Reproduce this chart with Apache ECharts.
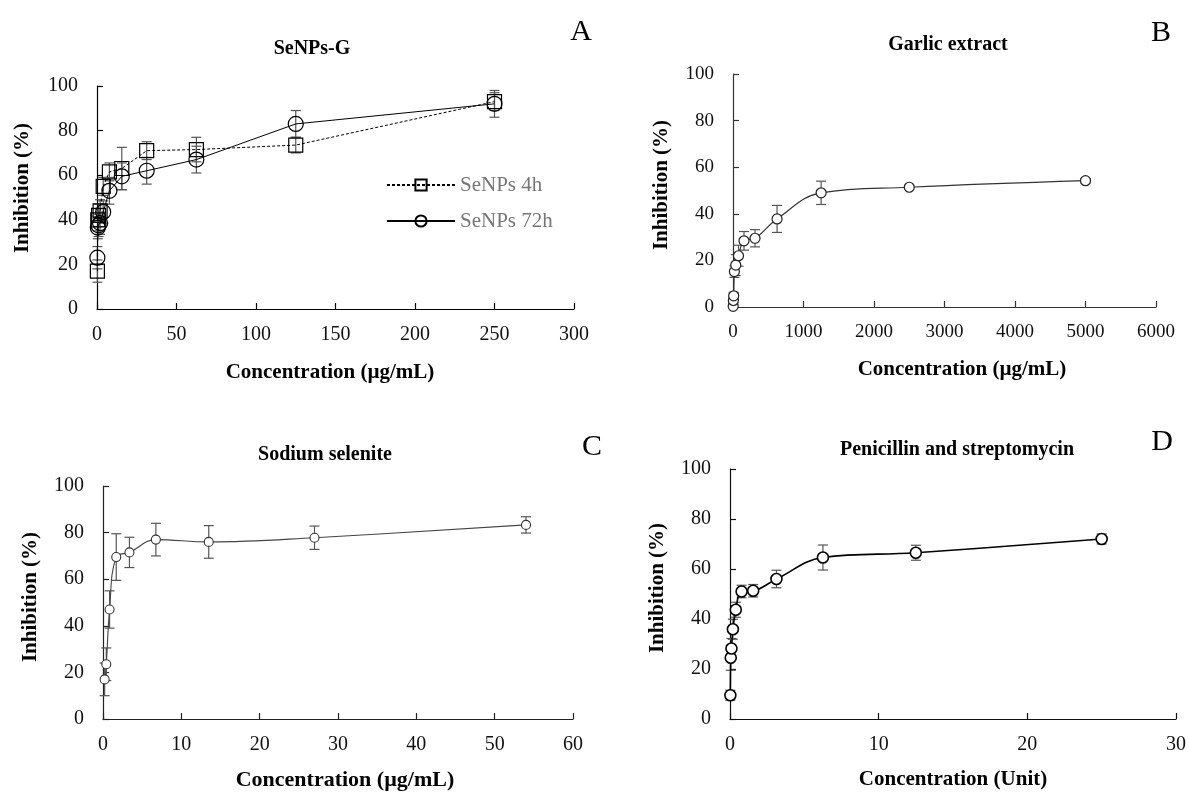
<!DOCTYPE html>
<html>
<head>
<meta charset="utf-8">
<title>Inhibition curves</title>
<script src="https://cdn.jsdelivr.net/npm/echarts@6/dist/echarts.min.js"></script>
<style>
  html, body { margin: 0; padding: 0; background: #fff; }
  #chart { width: 1189px; height: 792px; }
</style>
</head>
<body>
<div id="chart"></div>
<script>
// A: SeNPs-G
const concA = [0.24, 0.49, 0.98, 1.95, 3.9, 7.8, 15.6, 31.25, 62.5, 125, 250];
const senps4h = [17, 40, 42, 44, 55, 61.5, 63, 71, 71.5, 73.5, 93];
const senps4hErr = [5, 5, 5, 5, 4, 4, 9.5, 4, 5.5, 3.5, 4];
const senps72h = [23, 36.5, 37.5, 38.5, 43.5, 53, 59.5, 62, 67, 83, 92];
const senps72hErr = [5, 5, 5, 5, 5, 6, 6, 6, 6, 6, 6];

// B: garlic extract
const concB = [2.44, 4.88, 9.77, 19.5, 39, 78, 156, 312.5, 625, 1250, 2500, 5000];
const garlic = [0.3, 2.8, 4.8, 15.2, 18, 22, 28.4, 29.5, 37.8, 49, 51.4, 54.2];
const garlicErr = [0.5, 1, 1.5, 2.5, 4.5, 4.5, 4, 3.7, 5.8, 5, 0.8, 1];

// C: sodium selenite
const concC = [0.21, 0.42, 0.84, 1.69, 3.375, 6.75, 13.5, 27, 54];
const selenite = [17, 23.5, 47, 69.5, 71.5, 77, 76, 77.8, 83.3];
const seleniteErr = [7, 7, 8, 10, 6.5, 7, 7, 5, 3.5];

// D: penicillin and streptomycin
const concD = [0.024, 0.049, 0.098, 0.195, 0.39, 0.78, 1.56, 3.125, 6.25, 12.5, 25];
const penStrep = [9.5, 24.5, 28.2, 35.9, 43.7, 51, 51.3, 56, 64.6, 66.5, 72];
const penStrepErr = [2, 5, 4, 4, 3, 2.5, 2.5, 3.5, 5, 3, 2];

const serif = '"Liberation Serif", "Times New Roman", serif';

const grids = [
  { left: 97, top: 86, width: 477, height: 223 },
  { left: 733, top: 74, width: 423, height: 233 },
  { left: 103, top: 486, width: 470, height: 233 },
  { left: 730, top: 469, width: 447, height: 250 }
];
const xMax = [300, 6000, 60, 30];
const xStep = [50, 1000, 10, 10];
const axisColor = ['#000', '#333', '#222', '#111'];

function pairs(xs, ys) {
  return xs.map((x, i) => [x, ys[i]]);
}

function errorSeries(idx, xs, ys, errs, color) {
  return {
    type: 'custom',
    xAxisIndex: idx,
    yAxisIndex: idx,
    z: 1,
    silent: true,
    clip: false,
    data: xs.map((x, i) => [x, ys[i] - errs[i], ys[i] + errs[i]]),
    renderItem(params, api) {
      const lo = api.coord([api.value(0), api.value(1)]);
      const hi = api.coord([api.value(0), api.value(2)]);
      const w = 5;
      const style = { stroke: color, lineWidth: 1.2 };
      return {
        type: 'group',
        children: [
          { type: 'line', shape: { x1: lo[0], y1: lo[1], x2: hi[0], y2: hi[1] }, style },
          { type: 'line', shape: { x1: lo[0] - w, y1: lo[1], x2: lo[0] + w, y2: lo[1] }, style },
          { type: 'line', shape: { x1: hi[0] - w, y1: hi[1], x2: hi[0] + w, y2: hi[1] }, style }
        ]
      };
    }
  };
}

function text(str, x, y, size, bold, extra) {
  return Object.assign({
    type: 'text',
    x: x,
    y: y,
    style: {
      text: str,
      font: (bold ? 'bold ' : '') + size + 'px ' + serif,
      fill: '#000',
      align: 'center',
      verticalAlign: 'middle'
    }
  }, extra || {});
}

function yTitle(x, y) {
  return text('Inhibition (%)', x, y, 21, true, { rotation: Math.PI / 2 });
}

const chart = echarts.init(document.getElementById('chart'), null, { renderer: 'canvas' });

chart.setOption({
  animation: false,
  backgroundColor: '#fff',
  grid: grids,
  xAxis: grids.map((g, i) => ({
    type: 'value',
    gridIndex: i,
    min: 0,
    max: xMax[i],
    interval: xStep[i],
    axisLine: { lineStyle: { color: axisColor[i], width: 1.2 } },
    axisTick: { inside: true, length: 6, lineStyle: { color: axisColor[i], width: 1.2 } },
    axisLabel: {
      margin: 16,
      color: '#111',
      fontFamily: serif,
      fontSize: i === 1 ? 19 : 20,
      formatter: (v) => String(v)
    },
    splitLine: { show: false }
  })),
  yAxis: grids.map((g, i) => ({
    type: 'value',
    gridIndex: i,
    min: 0,
    max: 100,
    interval: 20,
    axisLine: { show: true, lineStyle: { color: axisColor[i], width: 1.2 } },
    axisTick: { show: true, inside: true, length: 6, lineStyle: { color: axisColor[i], width: 1.2 } },
    axisLabel: { margin: 19, color: '#111', fontFamily: serif, fontSize: i === 1 ? 19 : 20 },
    splitLine: { show: false }
  })),
  legend: {
    orient: 'vertical',
    left: 386,
    top: 174,
    padding: 0,
    itemWidth: 68,
    itemHeight: 14,
    itemGap: 14,
    data: ['SeNPs 4h', 'SeNPs 72h'],
    textStyle: { fontFamily: serif, fontSize: 21, color: '#777', lineHeight: 22 }
  },
  series: [
    errorSeries(0, concA, senps4h, senps4hErr, '#555'),
    errorSeries(0, concA, senps72h, senps72hErr, '#555'),
    {
      name: 'SeNPs 4h',
      type: 'line',
      xAxisIndex: 0,
      yAxisIndex: 0,
      z: 3,
      data: pairs(concA, senps4h),
      symbol: 'rect',
      symbolSize: 14,
      lineStyle: { color: '#000', width: 1, type: [3, 2] },
      itemStyle: { color: 'rgba(255,255,255,0)', borderColor: '#000', borderWidth: 1.2 }
    },
    {
      name: 'SeNPs 72h',
      type: 'line',
      xAxisIndex: 0,
      yAxisIndex: 0,
      z: 3,
      data: pairs(concA, senps72h),
      symbol: 'circle',
      symbolSize: 15,
      lineStyle: { color: '#000', width: 1 },
      itemStyle: { color: 'rgba(255,255,255,0)', borderColor: '#000', borderWidth: 1.2 }
    },
    errorSeries(1, concB, garlic, garlicErr, '#555'),
    {
      name: 'Garlic extract',
      type: 'line',
      xAxisIndex: 1,
      yAxisIndex: 1,
      z: 3,
      smooth: 0.4,
      data: pairs(concB, garlic),
      symbol: 'circle',
      symbolSize: 10,
      lineStyle: { color: '#333', width: 1.2 },
      itemStyle: { color: '#fff', borderColor: '#222', borderWidth: 1.2 }
    },
    errorSeries(2, concC, selenite, seleniteErr, '#555'),
    {
      name: 'Sodium selenite',
      type: 'line',
      xAxisIndex: 2,
      yAxisIndex: 2,
      z: 3,
      smooth: 0.4,
      data: pairs(concC, selenite),
      symbol: 'circle',
      symbolSize: 9,
      lineStyle: { color: '#444', width: 1.1 },
      itemStyle: { color: '#fff', borderColor: '#333', borderWidth: 1.1 }
    },
    errorSeries(3, concD, penStrep, penStrepErr, '#555'),
    {
      name: 'Penicillin and streptomycin',
      type: 'line',
      xAxisIndex: 3,
      yAxisIndex: 3,
      z: 3,
      smooth: 0.4,
      data: pairs(concD, penStrep),
      symbol: 'circle',
      symbolSize: 11,
      lineStyle: { color: '#000', width: 1.6 },
      itemStyle: { color: '#fff', borderColor: '#000', borderWidth: 1.6 }
    }
  ],
  graphic: [
    text('SeNPs-G', 312, 49, 20, true),
    text('Garlic extract', 948, 45, 20, true),
    text('Sodium selenite', 325, 455, 20, true),
    text('Penicillin and streptomycin', 957, 450, 20, true),
    text('A', 581, 32, 30, false),
    text('B', 1161, 33, 30, false),
    text('C', 592, 447, 30, false),
    text('D', 1162, 442, 30, false),
    text('Concentration (\u00b5g/mL)', 330, 373, 21, true),
    text('Concentration (\u00b5g/mL)', 962, 370, 21, true),
    text('Concentration (\u00b5g/mL)', 345, 780, 22, true),
    text('Concentration (Unit)', 953, 780, 21, true),
    yTitle(23, 188),
    yTitle(662, 185),
    yTitle(31, 597),
    yTitle(658, 588)
  ]
});
</script>
</body>
</html>
